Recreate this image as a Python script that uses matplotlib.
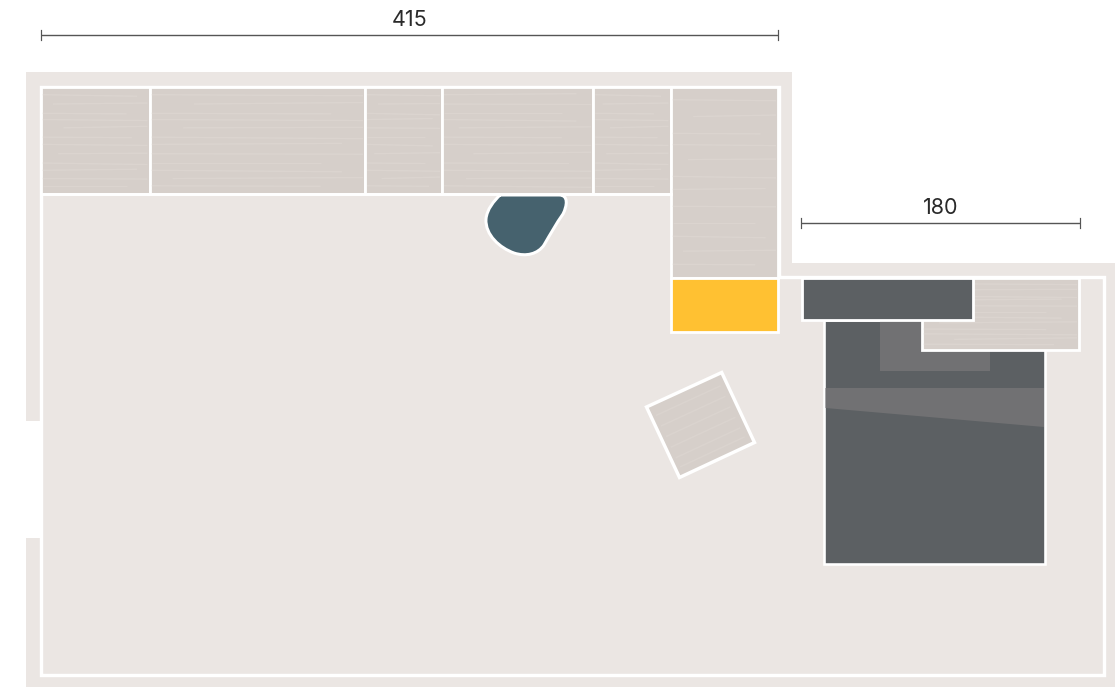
import matplotlib
matplotlib.use("Agg")
import matplotlib.pyplot as plt
from matplotlib.patches import Polygon, Rectangle, PathPatch
from matplotlib.path import Path

plt.rcParams['font.family'] = ['Inter', 'DejaVu Sans']

W, H = 1115, 687

wall_col = "#EBE6E3"
wood_col = "#D6CFCA"
grain_col = "#E4DED9"
dark_col = "#5C6063"
light_col = "#717173"
yellow_col = "#FFC132"
teal_col = "#46626E"
dim_col = "#555555"

# everything below is in reference pixels
wall_outline = [(26, 72), (792, 72), (792, 263), (1115, 263), (1115, 687), (26, 687)]
room_outline = [(40.5, 86.5), (779, 86.5), (779, 277), (1103.5, 277), (1103.5, 675), (40.5, 675)]
door_gap = (26, 421, 15, 117)

# x, y, w, h
wood_panels = [
    (40.5, 86.5, 109, 107.5),
    (149.5, 86.5, 215.5, 107.5),
    (365, 86.5, 77, 107.5),
    (442, 86.5, 151.2, 107.5),
    (593.2, 86.5, 77.3, 107.5),
    (670.5, 86.5, 107.5, 191),
    (921.5, 277.5, 157.5, 72.8),
]
yellow_box = (670.5, 277.5, 107.5, 54.5)
bed = (824, 320, 221, 244)
pillow = (880, 321, 110, 50)
blanket = [(825.5, 388), (1044, 388), (1044, 427), (825.5, 408)]
headboard = (802.2, 277.5, 170.9, 42.8)
stool = [(721.7, 372.5), (754.5, 442.5), (679.5, 477.5), (646.5, 407)]

# grain streaks, as fractions of panel height with start/end fraction of width
grain_rows = [0.06, 0.15, 0.24, 0.30, 0.38, 0.47, 0.54, 0.63, 0.72, 0.79, 0.87, 0.94]
grain_starts = [0.0, 0.1, 0.0, 0.0, 0.2, 0.0, 0.0, 0.15, 0.0, 0.0, 0.0, 0.0]
grain_ends = [0.9, 1.0, 0.8, 1.0, 1.0, 0.85, 1.0, 1.0, 1.0, 0.9, 1.0, 0.8]
grain_slope = [1.5, -1, 0.5, 1, -1.5, 0.5, 1, -0.5, 1.5, -1, 0.5, 0]

stool_rows = [0.15, 0.3, 0.45, 0.6, 0.75, 0.88]

blob_verts = [
    (500, 195), (559, 195),
    (569, 195), (567, 206), (563, 214),
    (556, 224), (551, 233), (544, 245),
    (538, 254), (526, 257), (514, 253),
    (500, 248), (485, 235), (486, 219),
    (487, 209), (494, 201), (500, 195),
]
blob_codes = [Path.MOVETO, Path.LINETO] + [Path.CURVE4] * 15

dims = [
    ("415", 41, 778, 34.5, 20.5),
    ("180", 801, 1080, 223, 207.5),
]

fig = plt.figure(figsize=(W / 100, H / 100), dpi=100)
ax = fig.add_axes([0, 0, 1, 1])
ax.set_xlim(0, W)
ax.set_ylim(H, 0)
ax.axis("off")


def px(n):
    return n * 0.72


def add_grain(x, y, w, h, n):
    x0, x1 = x + 2, x + w - 2
    for i, fy in enumerate(grain_rows):
        k = (i + n * 3) % len(grain_rows)
        yy = y + 2 + fy * (h - 4)
        y_end = min(yy + grain_slope[k], y + h - 2)
        ax.plot([x0 + grain_starts[k] * (x1 - x0), x0 + grain_ends[k] * (x1 - x0)],
                [yy, y_end], color=grain_col, lw=px(1.3), alpha=0.4, zorder=2.5,
                solid_capstyle="butt")


def add_stool_grain():
    a, b, c, d = stool
    for f in stool_rows:
        p0 = (d[0] + (c[0] - d[0]) * f, d[1] + (c[1] - d[1]) * f)
        p1 = (a[0] + (b[0] - a[0]) * f, a[1] + (b[1] - a[1]) * f)
        ax.plot([p0[0] + (p1[0] - p0[0]) * 0.06, p0[0] + (p1[0] - p0[0]) * 0.92],
                [p0[1] + (p1[1] - p0[1]) * 0.06, p0[1] + (p1[1] - p0[1]) * 0.92],
                color=grain_col, lw=px(1.5), alpha=0.3, zorder=3.1, solid_capstyle="butt")


ax.add_patch(Polygon(wall_outline, closed=True, fc=wall_col, ec="none", zorder=1))
ax.add_patch(Polygon(room_outline, closed=True, fc=wall_col, ec="white", lw=px(3.4),
                     joinstyle="miter", zorder=1.5))
ax.add_patch(Rectangle(door_gap[:2], door_gap[2], door_gap[3], fc="white", ec="none", zorder=1.6))

# bed goes under the nightstand and headboard
ax.add_patch(Rectangle(bed[:2], bed[2], bed[3], fc=dark_col, ec="white", lw=px(2.6), zorder=2))
ax.add_patch(Rectangle(pillow[:2], pillow[2], pillow[3], fc=light_col, ec="none", zorder=2.1))
ax.add_patch(Polygon(blanket, closed=True, fc=light_col, ec="none", zorder=2.1))

for n, (x, y, w, h) in enumerate(wood_panels):
    ax.add_patch(Rectangle((x, y), w, h, fc=wood_col, ec="white", lw=px(2.8), zorder=2.4))
    add_grain(x, y, w, h, n)

ax.add_patch(Rectangle(yellow_box[:2], yellow_box[2], yellow_box[3], fc=yellow_col,
                       ec="white", lw=px(2.8), zorder=3))
ax.add_patch(Rectangle(headboard[:2], headboard[2], headboard[3], fc=dark_col,
                       ec="white", lw=px(2.8), zorder=3))
ax.add_patch(Polygon(stool, closed=True, fc=wood_col, ec="white", lw=px(3.4),
                     joinstyle="miter", zorder=3))
add_stool_grain()
ax.add_patch(PathPatch(Path(blob_verts, blob_codes), fc=teal_col, ec="white", lw=px(3), zorder=2))
# the top row sits over the blob
ax.plot([41, 671], [194, 194], color="white", lw=px(2.8), zorder=2.45)

for label, x0, x1, y, ty in dims:
    ax.plot([x0, x1], [y, y], color=dim_col, lw=px(1.4), zorder=4, solid_capstyle="butt")
    for xe in (x0, x1):
        ax.plot([xe, xe], [y - 5, y + 5], color=dim_col, lw=px(1.2), zorder=4)
    ax.text((x0 + x1) / 2, ty, label, ha="center", va="center",
            fontsize=15.5, color="#2A2A2A", zorder=4)

fig.savefig("out.png", dpi=100, facecolor="white")
